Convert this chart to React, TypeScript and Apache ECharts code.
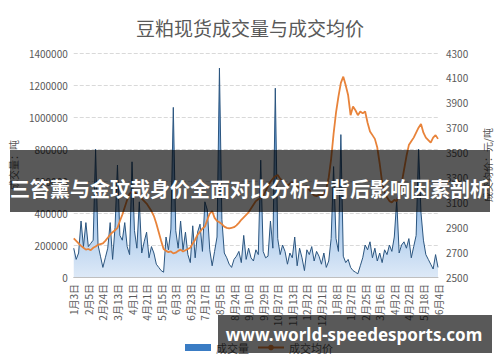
import React, { useEffect, useRef } from 'react';
import * as echarts from 'echarts';

const chartTitle = '豆粕现货成交量与成交均价';
const seriesNames = ['成交量', '成交均价'];
const volumeAxisName = '成交量：吨';
const priceAxisName = '成交均价：元/吨';
const volumeRange = [0, 1400000, 200000];
const priceRange = [2500, 4300, 200];
const bannerText = '三笞薰与金玟哉身价全面对比分析与背后影响因素剖析';
const siteText = 'www.world-speedesports.com';

const categories = [
  '1月3日', '1月10日', '1月16日', '1月22日', '1月26日', '1月30日',
  '2月5日', '2月8日', '2月11日', '2月14日', '2月17日', '2月21日',
  '2月24日', '2月27日', '3月1日', '3月3日', '3月7日', '3月9日',
  '3月13日', '3月15日', '3月18日', '3月21日', '3月24日', '3月27日',
  '4月1日', '4月5日', '4月8日', '4月12日', '4月15日', '4月18日',
  '4月21日', '4月25日', '4月28日', '5月3日', '5月7日', '5月10日',
  '5月15日', '5月17日', '5月20日', '5月23日', '5月26日', '5月30日',
  '6月3日', '6月6日', '6月10日', '6月13日', '6月16日', '6月20日',
  '6月23日', '6月27日', '7月1日', '7月5日', '7月9日', '7月13日',
  '7月17日', '7月20日', '7月23日', '7月26日', '7月29日', '8月1日',
  '8月5日', '8月8日', '8月11日', '8月14日', '8月17日', '8月21日',
  '8月24日', '8月27日', '8月30日', '9月2日', '9月5日', '9月7日',
  '9月10日', '9月13日', '9月16日', '9月20日', '9月23日', '9月26日',
  '9月29日', '10月9日', '10月13日', '10月17日', '10月20日', '10月24日',
  '10月27日', '10月30日', '11月2日', '11月5日', '11月7日', '11月10日',
  '11月13日', '11月16日', '11月19日', '11月22日', '11月26日', '11月29日',
  '12月2日', '12月5日', '12月8日', '12月11日', '12月14日', '12月18日',
  '12月21日', '12月24日', '12月27日', '12月29日', '1月2日', '1月4日',
  '1月8日', '1月11日', '1月14日', '1月17日', '1月20日', '1月24日',
  '1月27日', '2月1日', '2月6日', '2月13日', '2月16日', '2月20日',
  '2月25日', '2月28日', '3月2日', '3月6日', '3月8日', '3月12日',
  '3月16日', '3月20日', '3月23日', '3月26日', '3月29日', '3月31日',
  '4月2日', '4月6日', '4月9日', '4月13日', '4月16日', '4月19日',
  '4月22日', '4月26日', '4月29日', '5月4日', '5月8日', '5月14日',
  '5月18日', '5月21日', '5月24日', '5月27日', '5月29日', '6月1日',
  '6月4日',
];

const volume = [
  180000, 110000, 150000, 350000, 190000, 340000,
  190000, 210000, 230000, 800000, 200000, 130000,
  60000, 120000, 180000, 340000, 110000, 310000,
  700000, 260000, 230000, 340000, 190000, 140000,
  720000, 290000, 180000, 470000, 150000, 220000,
  280000, 120000, 190000, 150000, 80000, 60000,
  40000, 30000, 250000, 170000, 300000, 1060000,
  290000, 180000, 350000, 170000, 280000, 140000,
  90000, 320000, 120000, 280000, 330000, 160000,
  470000, 420000, 170000, 70000, 160000, 250000,
  1306000, 360000, 150000, 120000, 80000, 60000,
  110000, 130000, 160000, 90000, 260000, 110000,
  180000, 120000, 100000, 170000, 140000, 730000,
  160000, 120000, 130000, 350000, 180000, 1180000,
  240000, 140000, 200000, 160000, 80000, 150000,
  120000, 250000, 70000, 180000, 120000, 40000,
  170000, 140000, 190000, 100000, 160000, 130000,
  80000, 150000, 60000, 100000, 240000, 690000,
  240000, 160000, 890000, 130000, 90000, 110000,
  60000, 40000, 30000, 20000, 70000, 120000,
  200000, 170000, 220000, 120000, 180000, 100000,
  150000, 90000, 170000, 140000, 200000, 160000,
  250000, 480000, 150000, 200000, 220000, 180000,
  240000, 120000, 190000, 260000, 800000, 400000,
  230000, 140000, 110000, 80000, 50000, 140000,
  60000,
];

const avgPrice = [
  2810, 2790, 2770, 2750, 2735, 2720,
  2725, 2715, 2735, 2745, 2760, 2765,
  2770, 2790, 2815, 2840, 2860, 2875,
  2895, 2950, 3000, 3060, 3120, 3170,
  3185, 3180, 3165, 3150, 3130, 3110,
  3090, 3060, 3030, 2990, 2930, 2860,
  2790, 2725, 2710, 2700, 2705, 2690,
  2695, 2710, 2720, 2705, 2715, 2725,
  2735, 2770, 2800, 2840, 2865, 2890,
  2905, 2960, 3010, 3030, 2975, 2950,
  2940, 2925, 2905, 2895, 2890, 2895,
  2900, 2915, 2935, 2960, 2980, 3000,
  3020, 3050, 3080, 3110, 3125, 3135,
  3150, 3190, 3230, 3265, 3290, 3310,
  3320, 3290, 3270, 3240, 3235, 3250,
  3260, 3245, 3230, 3220, 3215, 3225,
  3230, 3200, 3175, 3155, 3150, 3160,
  3155, 3165, 3210, 3300, 3450, 3650,
  3820, 3950, 4060, 4110, 4040, 3960,
  3800, 3870, 3840, 3800, 3830, 3815,
  3830, 3740, 3670, 3640, 3610, 3540,
  3410, 3260, 3180, 3140, 3110, 3100,
  3120, 3110, 3170, 3250, 3360, 3470,
  3560, 3590, 3620, 3660, 3700, 3730,
  3660, 3620, 3600, 3580, 3620, 3640,
  3610,
];

const FONT = '"Noto Sans CJK SC", "Noto Sans", sans-serif';

export default function App() {
  const ref = useRef<HTMLDivElement>(null);
  useEffect(() => {
    if (!ref.current) return;
    const chart = echarts.init(ref.current, undefined, { renderer: 'svg' });
    const gray = '#595959';
    const plain = (v: number) => String(v);
    chart.setOption({
      animation: false,
      backgroundColor: '#ffffff',
      textStyle: { fontFamily: FONT },
      title: {
        text: chartTitle,
        left: 'center',
        top: 13,
        textStyle: { fontSize: 19, fontWeight: 'normal', color: gray, fontFamily: FONT },
      },
      grid: { left: 66, right: 60, top: 53, bottom: 85 },
      legend: {
        left: 180,
        top: 337,
        itemWidth: 26,
        itemHeight: 7,
        itemGap: 8,
        textStyle: { fontSize: 11, color: gray },
        data: [{ name: seriesNames[0], icon: 'rect' }, { name: seriesNames[1] }],
      },
      xAxis: {
        type: 'category',
        data: categories,
        boundaryGap: false,
        axisLine: { lineStyle: { color: '#bfbfbf' } },
        axisTick: { show: false },
        axisLabel: { interval: 5, rotate: 90, fontSize: 10, color: gray, margin: 7 },
      },
      yAxis: [
        {
          type: 'value',
          position: 'left',
          min: volumeRange[0],
          max: volumeRange[1],
          interval: volumeRange[2],
          name: volumeAxisName,
          nameLocation: 'middle',
          nameRotate: 90,
          nameGap: 52,
          nameTextStyle: { fontSize: 10, color: gray },
          axisLine: { show: false },
          axisTick: { show: false },
          axisLabel: { fontSize: 10, color: gray, margin: 6, formatter: plain },
          splitLine: { lineStyle: { type: 'dashed', color: '#d9d9d9' } },
        },
        {
          type: 'value',
          position: 'right',
          min: priceRange[0],
          max: priceRange[1],
          interval: priceRange[2],
          name: priceAxisName,
          nameLocation: 'middle',
          nameRotate: 90,
          nameGap: 44,
          nameTextStyle: { fontSize: 10, color: gray },
          axisLine: { show: false },
          axisTick: { show: false },
          axisLabel: { fontSize: 10, color: gray, margin: 8, formatter: plain },
          splitLine: { show: false },
        },
      ],
      series: [
        {
          name: seriesNames[0],
          type: 'line',
          yAxisIndex: 0,
          data: volume,
          symbol: 'none',
          itemStyle: { color: '#3a7cc4' },
          lineStyle: { color: '#2b557f', width: 1 },
          areaStyle: {
            color: new echarts.graphic.LinearGradient(0, 0, 0, 1, [
              { offset: 0, color: '#4a86c8' },
              { offset: 0.55, color: '#86b4e4' },
              { offset: 1, color: '#dde9f7' },
            ]),
            opacity: 1,
          },
          z: 2,
        },
        {
          name: seriesNames[1],
          type: 'line',
          yAxisIndex: 1,
          data: avgPrice,
          symbol: 'none',
          itemStyle: { color: '#e8833a' },
          lineStyle: { color: '#e8833a', width: 1.8 },
          z: 3,
        },
      ],
      graphic: [
        {
          type: 'rect',
          x: 10,
          y: 150,
          shape: { width: 480, height: 62 },
          style: { fill: 'rgba(0,0,0,0.65)' },
          z: 100,
        },
        {
          type: 'text',
          x: 250,
          y: 188,
          style: {
            text: bannerText,
            fill: '#ffffff',
            font: 'bold 20px "Noto Sans CJK SC"',
            align: 'center',
            verticalAlign: 'middle',
          },
          z: 101,
        },
        {
          type: 'rect',
          x: 218,
          y: 315,
          shape: { width: 274, height: 38 },
          style: { fill: 'rgba(0,0,0,0.65)' },
          z: 100,
        },
        {
          type: 'text',
          x: 354,
          y: 334,
          style: {
            text: siteText,
            fill: '#ffffff',
            font: 'bold 17px "Noto Sans"',
            align: 'center',
            verticalAlign: 'middle',
          },
          z: 101,
        },
      ],
    });
    return () => chart.dispose();
  }, []);
  return (
    <div
      ref={ref}
      style={{ position: 'absolute', left: 0, top: 0, width: 500, height: 362 }}
    />
  );
}
